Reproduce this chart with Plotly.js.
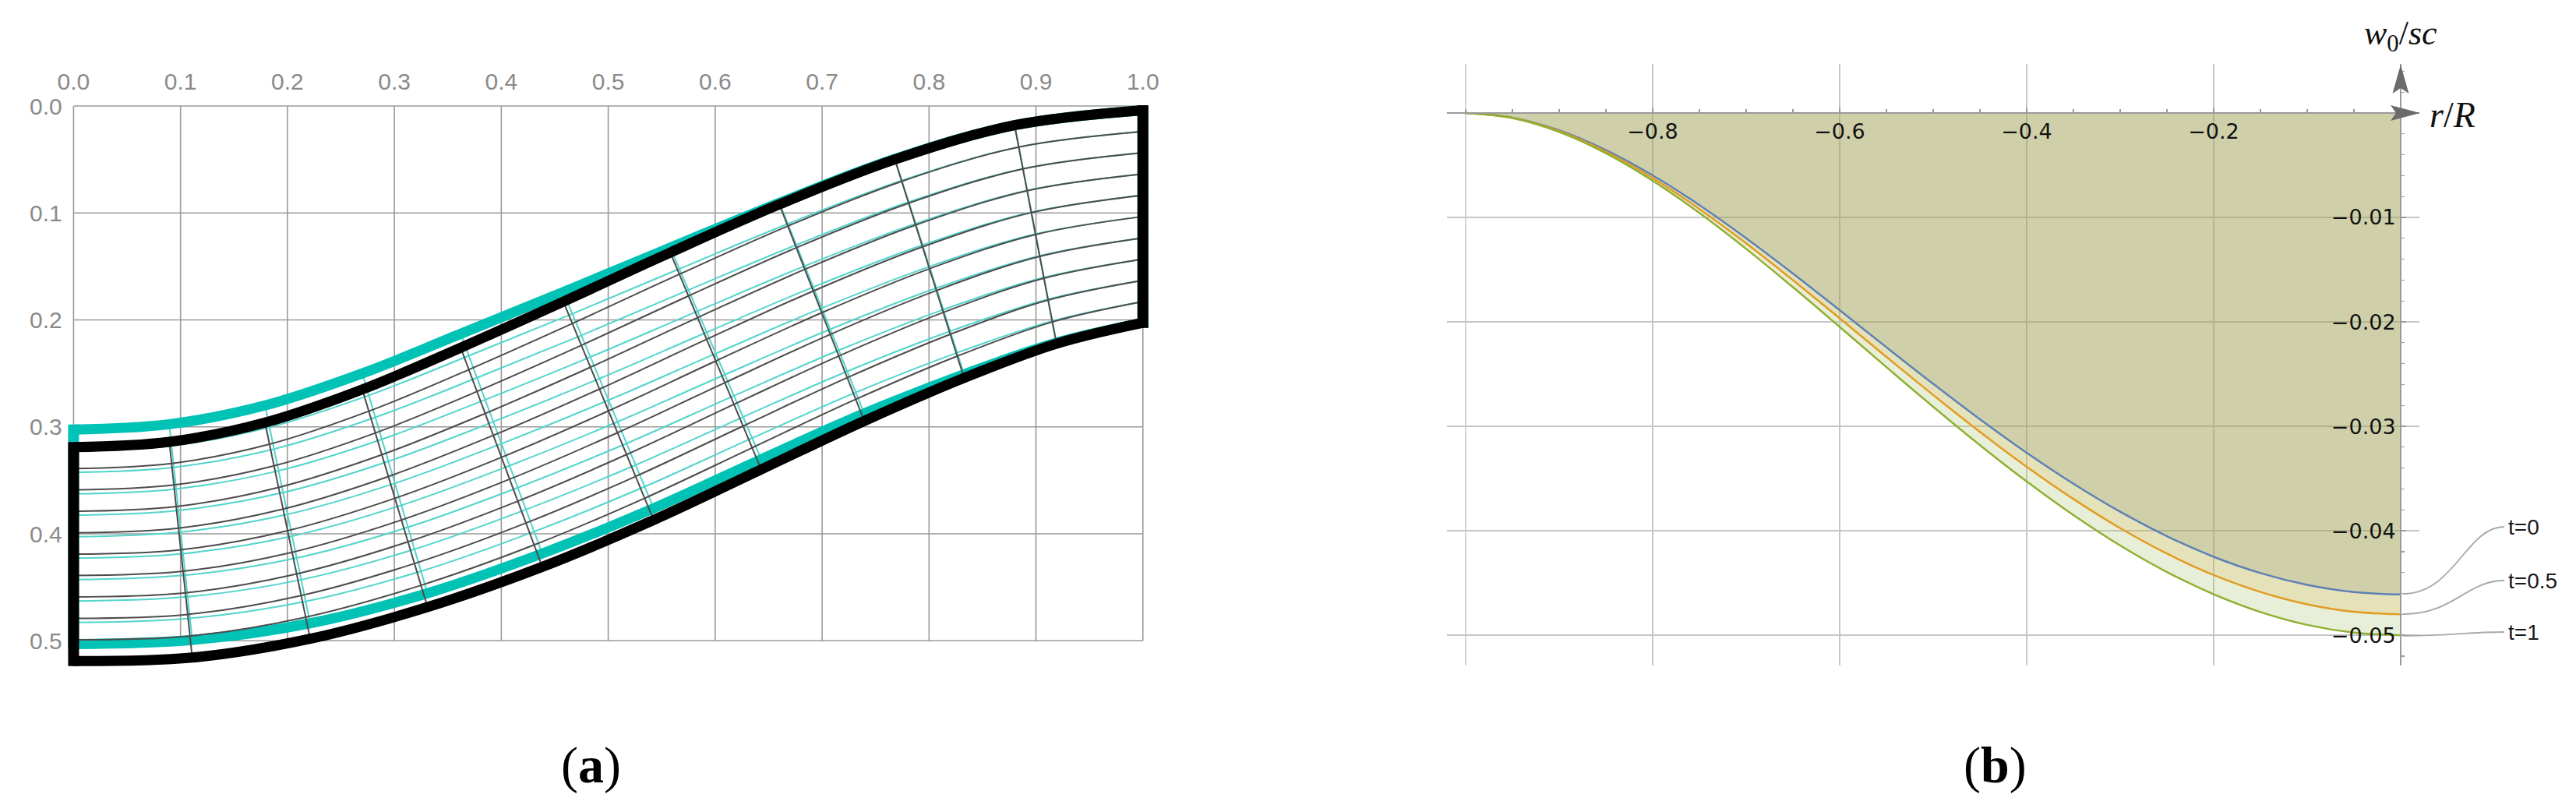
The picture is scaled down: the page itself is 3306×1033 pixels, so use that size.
<!DOCTYPE html>
<html><head><meta charset="utf-8">
<script src="https://cdn.plot.ly/plotly-3.0.1.min.js"></script>
<style>html,body{margin:0;padding:0;background:#fff}</style>
</head><body><div id="chart" style="width:3306px;height:1033px"></div>
<script>
// ---------- Panel (a): mesh boundary nodes at the 11 transverse stations ----------
const topX     = [0.000, 0.0895, 0.179, 0.270, 0.362, 0.458, 0.558, 0.660, 0.768, 0.880, 1.000];
const topY     = [0.3190, 0.3140, 0.2960, 0.2650, 0.2260, 0.1830, 0.1370, 0.0920, 0.0500, 0.0180, 0.0040];
const botX     = [0.000, 0.111, 0.2213, 0.331, 0.4383, 0.5425, 0.6431, 0.7394, 0.8328, 0.9192, 1.000];
const botY     = [0.5190, 0.5157, 0.4981, 0.4685, 0.4309, 0.3871, 0.3398, 0.2945, 0.2543, 0.2223, 0.2027];
const tealTopY = [0.3025, 0.2975, 0.2800, 0.2500, 0.2130, 0.1740, 0.1325, 0.0905, 0.0495, 0.0180, 0.0040];
const tealBotY = [0.5030, 0.4992, 0.4836, 0.4555, 0.4184, 0.3761, 0.3303, 0.2875, 0.2508, 0.2213, 0.2027];
const meshLayers = 10;
const ticksAx = [0, 0.1, 0.2, 0.3, 0.4, 0.5, 0.6, 0.7, 0.8, 0.9, 1.0];
const ticksAy = [0, 0.1, 0.2, 0.3, 0.4, 0.5];

// ---------- Panel (b): deflection w0/sc versus r/R ----------
const rVals = [-1.00, -0.95, -0.90, -0.85, -0.80, -0.75, -0.70, -0.65, -0.60, -0.55, -0.50,
               -0.45, -0.40, -0.35, -0.30, -0.25, -0.20, -0.15, -0.10, -0.05, 0.00];
const wT0  = [0, -0.00044, -0.00166, -0.00355, -0.00597, -0.00882, -0.01199, -0.01537, -0.01888, -0.02243, -0.02593,
              -0.02932, -0.03253, -0.03550, -0.03818, -0.04052, -0.04249, -0.04405, -0.04518, -0.04587, -0.04610];
const wT05 = [0, -0.00046, -0.00173, -0.00370, -0.00622, -0.00919, -0.01248, -0.01601, -0.01966, -0.02335, -0.02700,
              -0.03053, -0.03387, -0.03696, -0.03975, -0.04219, -0.04424, -0.04586, -0.04704, -0.04776, -0.04800];
const wT1  = [0, -0.00048, -0.00181, -0.00385, -0.00648, -0.00957, -0.01301, -0.01668, -0.02048, -0.02433, -0.02813,
              -0.03180, -0.03528, -0.03850, -0.04141, -0.04395, -0.04608, -0.04778, -0.04901, -0.04975, -0.05000];
const curveLabels = ['t=0', 't=0.5', 't=1'];
const xTicksB = [-0.8, -0.6, -0.4, -0.2];
const xGridExtraB = [-1];
const yTicksB = [-0.01, -0.02, -0.03, -0.04, -0.05];

// ---------- build ----------
const W = 3306, H = 1033;
const PX = x => x / W, PY = y => 1 - y / H;
const N = topX.length;
const thick = 13;
const hA = (thick / 2) / 1372.5;   // half boundary width in data units of panel (a)

function blend(a, b, s) { return a.map((v, i) => v + s * (b[i] - v)); }
function base(extra) { return Object.assign({ mode: 'lines', hoverinfo: 'skip', showlegend: false, xaxis: 'x', yaxis: 'y' }, extra); }

function meshTraces(tx, ty, bx, by, thinColor, thickColor) {
  const tr = [];
  for (let k = 1; k < meshLayers; k++) {
    const s = k / meshLayers;
    tr.push(base({ x: blend(tx, bx, s), y: blend(ty, by, s), line: { color: thinColor, width: 2, shape: 'spline', smoothing: 1 } }));
  }
  const cx = [], cy = [];
  for (let i = 1; i < N - 1; i++) { cx.push(tx[i], bx[i], null); cy.push(ty[i], by[i], null); }
  tr.push(base({ x: cx, y: cy, line: { color: thinColor, width: 2 } }));
  tr.push(base({ x: tx, y: ty, line: { color: thickColor, width: thick, shape: 'spline', smoothing: 1 } }));
  tr.push(base({ x: bx, y: by, line: { color: thickColor, width: thick, shape: 'spline', smoothing: 1 } }));
  tr.push(base({ x: [tx[0], bx[0]], y: [ty[0] - hA, by[0] + hA], line: { color: thickColor, width: thick + 1 } }));
  tr.push(base({ x: [tx[N - 1], bx[N - 1]], y: [ty[N - 1] - hA, by[N - 1] + hA], line: { color: thickColor, width: thick + 1 } }));
  return tr;
}

const traces = [].concat(
  meshTraces(topX, tealTopY, botX, tealBotY, '#52d5cb', '#00c2b5'),
  meshTraces(topX, topY, botX, botY, '#4d4d4d', '#000000')
);

const bLine = { mode: 'lines', hoverinfo: 'skip', showlegend: false, xaxis: 'x2', yaxis: 'y2' };
traces.push(Object.assign({}, bLine, { x: rVals, y: wT0, fill: 'tozeroy', fillcolor: 'rgba(159,161,85,0.5)',
  line: { color: '#5e81b5', width: 2.5, shape: 'spline' } }));
traces.push(Object.assign({}, bLine, { x: rVals, y: wT05, fill: 'tonexty', fillcolor: 'rgba(190,182,82,0.4)',
  line: { color: '#e19c24', width: 2.5, shape: 'spline' } }));
traces.push(Object.assign({}, bLine, { x: rVals, y: wT1, fill: 'tonexty', fillcolor: 'rgba(178,202,125,0.3)',
  line: { color: '#8fb032', width: 2.5, shape: 'spline' } }));

// grid of panel (a) (stops at the frame 0..1 x 0..0.5)
const shapes = [];
ticksAx.forEach(v => shapes.push({ type: 'line', xref: 'x', yref: 'y', x0: v, x1: v, y0: 0, y1: 0.5, layer: 'below', line: { color: '#9a9a9a', width: 1.6 } }));
ticksAy.forEach(v => shapes.push({ type: 'line', xref: 'x', yref: 'y', x0: 0, x1: 1, y0: v, y1: v, layer: 'below', line: { color: '#9a9a9a', width: 1.6 } }));
// extra unlabeled gridline of panel (b) at r/R = -1
xGridExtraB.forEach(v => shapes.push({ type: 'line', xref: 'x2', yref: 'paper', x0: v, x1: v, y0: PY(854), y1: PY(82), layer: 'below', line: { color: '#c6c6c6', width: 1.5 } }));

// arrowheads of panel (b) axes
function pathPx(pts) { return 'M ' + pts.map(p => PX(p[0]).toFixed(5) + ' ' + PY(p[1]).toFixed(5)).join(' L ') + ' Z'; }
shapes.push({ type: 'path', xref: 'paper', yref: 'paper', path: pathPx([[3081, 83], [3070.5, 120], [3081, 113], [3091.5, 120]]), fillcolor: '#6b6b6b', line: { width: 0 } });
shapes.push({ type: 'path', xref: 'paper', yref: 'paper', path: pathPx([[3106, 145], [3068, 135], [3075, 145], [3068, 155]]), fillcolor: '#6b6b6b', line: { width: 0 } });

// leader lines for curve labels
const leaders = [[762, 676], [788, 745], [816, 811]];
leaders.forEach(l => {
  const x0 = 3084, x1 = 3214;
  const p = 'M ' + PX(x0).toFixed(5) + ' ' + PY(l[0]).toFixed(5) +
    ' C ' + PX(3150).toFixed(5) + ' ' + PY(l[0]).toFixed(5) + ', ' + PX(3165).toFixed(5) + ' ' + PY(l[1]).toFixed(5) + ', ' +
    PX(x1).toFixed(5) + ' ' + PY(l[1]).toFixed(5);
  shapes.push({ type: 'path', xref: 'paper', yref: 'paper', path: p, line: { color: '#a8a8a8', width: 1.8 } });
});

const annotations = [];
curveLabels.forEach((t, i) => annotations.push({ xref: 'paper', yref: 'paper', x: PX(3217), y: PY(leaders[i][1]), xanchor: 'left', yanchor: 'middle',
  text: t, showarrow: false, font: { family: 'Liberation Sans, Arial, sans-serif', size: 28, color: '#1a1a1a' } }));
annotations.push({ xref: 'paper', yref: 'paper', x: PX(3081), y: PY(46), xanchor: 'center', yanchor: 'middle', showarrow: false,
  text: '<i>w</i><sub>0</sub>/<i>sc</i>', font: { family: 'Liberation Serif, Times New Roman, serif', size: 44, color: '#111' } });
annotations.push({ xref: 'paper', yref: 'paper', x: PX(3116), y: PY(147), xanchor: 'left', yanchor: 'middle', showarrow: false,
  text: '<i>r</i>/<i>R</i>', font: { family: 'Liberation Serif, Times New Roman, serif', size: 46, color: '#111' } });
annotations.push({ xref: 'paper', yref: 'paper', x: PX(758), y: PY(982), xanchor: 'center', yanchor: 'middle', showarrow: false,
  text: '(<b>a</b>)', font: { family: 'Liberation Serif, Times New Roman, serif', size: 66, color: '#000' } });
annotations.push({ xref: 'paper', yref: 'paper', x: PX(2560), y: PY(982), xanchor: 'center', yanchor: 'middle', showarrow: false,
  text: '(<b>b</b>)', font: { family: 'Liberation Serif, Times New Roman, serif', size: 66, color: '#000' } });

const layout = {
  width: W, height: H, margin: { l: 0, r: 0, t: 0, b: 0 }, paper_bgcolor: '#fff', plot_bgcolor: 'rgba(0,0,0,0)',
  showlegend: false,
  xaxis: { domain: [PX(80.7), PX(1480.5)], range: [-0.01, 1.01], side: 'top', anchor: 'y',
    tickmode: 'array', tickvals: ticksAx, tickformat: '.1f', showgrid: false, zeroline: false, showline: false, ticks: '',
    tickfont: { family: 'Liberation Sans, Arial, sans-serif', size: 30, color: '#8a8a8a' } },
  yaxis: { domain: [PY(870.3), PY(122.3)], range: [0.535, -0.01], anchor: 'x',
    tickmode: 'array', tickvals: ticksAy, tickformat: '.1f', showgrid: false, zeroline: false, showline: false, ticks: '',
    tickfont: { family: 'Liberation Sans, Arial, sans-serif', size: 30, color: '#8a8a8a' } },
  xaxis2: { domain: [PX(1857), PX(3105)], range: [-1.02, 0.02], anchor: 'free', position: PY(145),
    tickmode: 'array', tickvals: xTicksB, tickformat: '.1f', showgrid: true, gridcolor: '#c6c6c6', gridwidth: 1.5,
    zeroline: false, showline: true, linecolor: '#9a9a9a', linewidth: 2, ticks: 'inside', ticklen: 6, tickcolor: '#9a9a9a', tickwidth: 1.5,
    minor: { tick0: -1, dtick: 0.05, ticks: 'inside', ticklen: 4, tickcolor: '#9a9a9a', tickwidth: 1.2, showgrid: false },
    tickfont: { family: 'DejaVu Sans, sans-serif', size: 27, color: '#111' } },
  yaxis2: { domain: [PY(854), PY(82)], range: [-0.0529, 0.0047], anchor: 'free', position: PX(3081),
    tickmode: 'array', tickvals: yTicksB, tickformat: '.2f', showgrid: true, gridcolor: '#c6c6c6', gridwidth: 1.5,
    zeroline: false, showline: true, linecolor: '#9a9a9a', linewidth: 2, ticks: 'inside', ticklen: 6, tickcolor: '#9a9a9a', tickwidth: 1.5,
    minor: { tick0: 0, dtick: 0.002, ticks: 'inside', ticklen: 4, tickcolor: '#9a9a9a', tickwidth: 1.2, showgrid: false },
    tickfont: { family: 'DejaVu Sans, sans-serif', size: 27, color: '#111' } },
  shapes: shapes,
  annotations: annotations
};

Plotly.newPlot('chart', traces, layout, { staticPlot: true, displayModeBar: false });
</script>
</body></html>
